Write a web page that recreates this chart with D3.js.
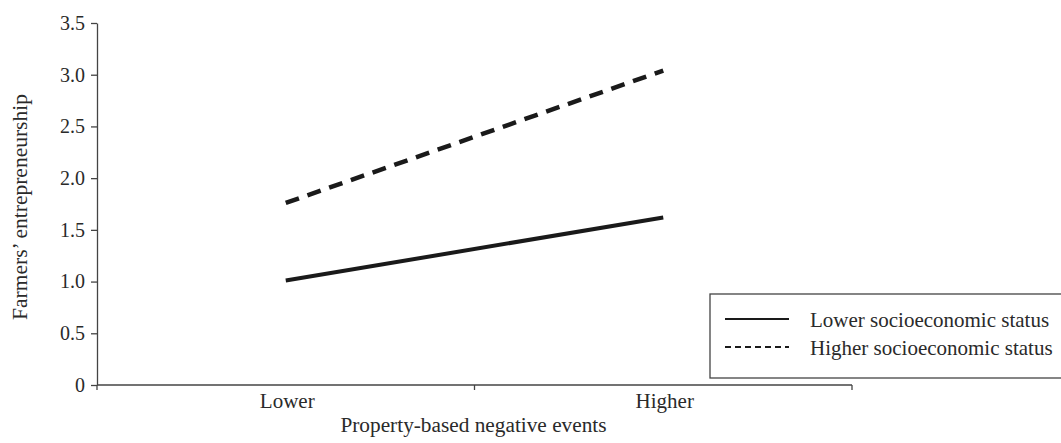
<!DOCTYPE html>
<html><head><meta charset="utf-8">
<script src="https://cdn.jsdelivr.net/npm/d3@7"></script>
<style>body{margin:0;background:#fff}svg{display:block}</style>
</head><body>
<svg id="c" width="1061" height="443"></svg>
<script>
const categories = ["Lower", "Higher"];
const seriesNames = ["Lower socioeconomic status", "Higher socioeconomic status"];
const lowerSES = [1.01, 1.62];
const higherSES = [1.76, 3.04];
const yTicks = [0, 0.5, 1.0, 1.5, 2.0, 2.5, 3.0, 3.5];
const yTickLabels = ["0", "0.5", "1.0", "1.5", "2.0", "2.5", "3.0", "3.5"];
const yTitle = "Farmers\u2019 entrepreneurship";
const xTitle = "Property-based negative events";

const svg = d3.select("#c");
const font = "'Liberation Serif','Times New Roman',serif";
const textColor = "#2a2a2a";
const axisColor = "#444";

const x = d3.scaleBand().domain(categories).range([97, 852]).padding(0);
const y = d3.scaleLinear().domain([0, 3.5]).range([385, 23]);

// Y axis
const gy = svg.append("g").attr("transform", "translate(97,0)")
  .call(d3.axisLeft(y).tickValues(yTicks).tickFormat((d,i)=>yTickLabels[i]).tickSize(6).tickPadding(6).tickSizeOuter(0));
gy.select(".domain").attr("stroke", axisColor).attr("stroke-width", 1.3);
gy.selectAll(".tick line").attr("stroke", axisColor).attr("stroke-width", 1.3);
gy.selectAll(".tick text").attr("font-family", font).attr("font-size", 20).attr("fill", textColor);

// X axis
const gx = svg.append("g").attr("transform", "translate(0,385)");
gx.append("line").attr("x1", x.range()[0]).attr("x2", x.range()[1]).attr("y1", 0).attr("y2", 0)
  .attr("stroke", axisColor).attr("stroke-width", 1.3);
const bounds = [x(categories[0]), x(categories[1]), x(categories[1]) + x.bandwidth()];
gx.selectAll("line.tk").data(bounds).enter().append("line").attr("class","tk")
  .attr("x1", d=>d).attr("x2", d=>d).attr("y1", 0).attr("y2", 5)
  .attr("stroke", axisColor).attr("stroke-width", 1.3);
gx.selectAll("text.cat").data(categories).enter().append("text").attr("class","cat")
  .attr("x", d=>x(d)+x.bandwidth()/2 + 1.5).attr("y", 23)
  .attr("text-anchor","middle").attr("font-family", font).attr("font-size", 21).attr("fill", textColor)
  .text(d=>d);

// Titles
svg.append("text").attr("transform","translate(27,207) rotate(-90)")
  .attr("text-anchor","middle").attr("font-family", font).attr("font-size", 21.5).attr("fill", textColor)
  .text(yTitle);
svg.append("text").attr("x", 473.5).attr("y", 432)
  .attr("text-anchor","middle").attr("font-family", font).attr("font-size", 21.3).attr("fill", textColor)
  .text(xTitle);

// Lines
const line = d3.line().x((d,i)=>x(categories[i]) + x.bandwidth()/2).y(d=>y(d));
svg.append("path").datum(lowerSES).attr("d", line).attr("fill","none")
  .attr("stroke","#1a1a1a").attr("stroke-width",4);
svg.append("path").datum(higherSES).attr("d", line).attr("fill","none")
  .attr("stroke","#1a1a1a").attr("stroke-width",4.5).attr("stroke-dasharray","14,9");

// Legend
const lg = svg.append("g");
lg.append("rect").attr("x",710).attr("y",294).attr("width",360).attr("height",84)
  .attr("fill","#fff").attr("stroke", axisColor).attr("stroke-width",1.3);
const rows = [{name: seriesNames[0], dash: null, y: 319}, {name: seriesNames[1], dash: "6,4", y: 347}];
rows.forEach(r=>{
  lg.append("line").attr("x1",725).attr("x2",789).attr("y1",r.y).attr("y2",r.y)
    .attr("stroke","#1a1a1a").attr("stroke-width",2).attr("stroke-dasharray", r.dash);
  lg.append("text").attr("x",810).attr("y",r.y+8).attr("font-family",font).attr("font-size",21)
    .attr("fill",textColor).text(r.name);
});
</script>
</body></html>
